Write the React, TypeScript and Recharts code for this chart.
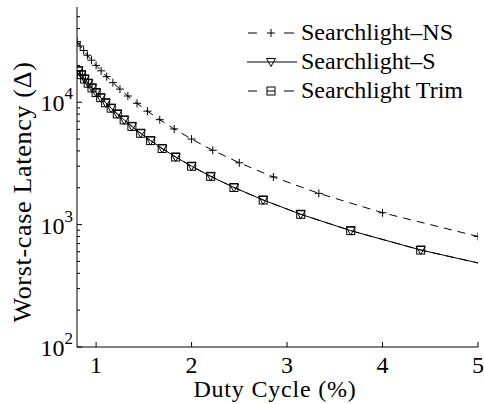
import React from "react";
import { LineChart, Line, XAxis, YAxis, Legend } from "recharts";

// duty cycle (%) for the Searchlight-S / Trim markers
const sDuty = [
  0.815, 0.846, 0.88, 0.917, 0.957, 1.0, 1.048, 1.1, 1.158, 1.222, 1.294, 1.375,
  1.467, 1.571, 1.692, 1.833, 2.0, 2.2, 2.444, 2.75, 3.143, 3.667, 4.4, 5.5,
];
const sLatency = [
  18100, 16800, 15500, 14300, 13100, 12000, 10900, 9900, 8950, 8030, 7170, 6350,
  5580, 4860, 4190, 3570, 3000, 2480, 2010, 1590, 1215, 893, 620, 397,
];
const trimLatency = [
  18100, 16800, 15500, 14300, 13100, 12000, 10900, 9900, 8950, 8030, 7170, 6350,
  5580, 4860, 4190, 3570, 3000, 2480, 2010, 1590, 1215, 893, 620, 397,
];

// Searchlight-NS
const nsDuty = [
  0.8, 0.833, 0.87, 0.909, 0.952, 1.0, 1.053, 1.111, 1.176, 1.25, 1.333, 1.429,
  1.538, 1.667, 1.818, 2.0, 2.222, 2.5, 2.857, 3.333, 4.0, 5.0,
];
const nsLatency = [
  31250, 28800, 26450, 24200, 22050, 20000, 18050, 16200, 14450, 12800, 11250, 9800,
  8450, 7200, 6050, 5000, 4050, 3200, 2450, 1800, 1250, 800,
];

const xTicks = [1, 2, 3, 4, 5];
const yMajor = [100, 1000, 10000];
const yMinor = [
  200, 300, 400, 500, 600, 700, 800, 900,
  2000, 3000, 4000, 5000, 6000, 7000, 8000, 9000,
  20000, 30000, 40000, 50000,
];
const yTicks = [...yMajor, ...yMinor].sort((a, b) => a - b);

const nsData = nsDuty.map((x, i) => ({ x, y: nsLatency[i] }));
const sData = sDuty.map((x, i) => ({ x, y: sLatency[i] }));
const trimData = sDuty.map((x, i) => ({ x, y: trimLatency[i] }));

const FONT = "Liberation Serif";
const INK = "#000";

const PlusDot = (p: any) => (
  <g key={`ns-${p.index}`}>
    <line x1={p.cx - 4} x2={p.cx + 4} y1={p.cy} y2={p.cy} stroke={INK} strokeWidth={1} />
    <line x1={p.cx} x2={p.cx} y1={p.cy - 4} y2={p.cy + 4} stroke={INK} strokeWidth={1} />
  </g>
);

const TriDot = (p: any) => (
  <polygon
    key={`s-${p.index}`}
    points={`${p.cx - 4.5},${p.cy - 3.5} ${p.cx + 4.5},${p.cy - 3.5} ${p.cx},${p.cy + 4.5}`}
    fill="none"
    stroke={INK}
    strokeWidth={1}
  />
);

const SquareDot = (p: any) => (
  <rect
    key={`t-${p.index}`}
    x={p.cx - 4}
    y={p.cy - 4}
    width={8}
    height={8}
    fill="none"
    stroke={INK}
    strokeWidth={1}
  />
);

const BottomTick = ({ x, y, payload }: any) => (
  <g>
    <line x1={x} x2={x} y1={y} y2={y - 5} stroke={INK} />
    <text x={x} y={y + 26} textAnchor="middle" fontFamily={FONT} fontSize={24} fill={INK}>
      {payload.value}
    </text>
  </g>
);

const TopTick = ({ x, y }: any) => <line x1={x} x2={x} y1={y} y2={y + 5} stroke={INK} />;

const LeftTick = ({ x, y, payload }: any) => {
  const major = yMajor.includes(payload.value);
  return (
    <g>
      <line x1={x} x2={x + (major ? 5 : 3)} y1={y} y2={y} stroke={INK} />
      {major && (
        <text x={x - 4} y={y + 9} textAnchor="end" fontFamily={FONT} fontSize={24} fill={INK}>
          <tspan>10</tspan>
          <tspan dy={-12} fontSize={17}>
            {Math.round(Math.log10(payload.value))}
          </tspan>
        </text>
      )}
    </g>
  );
};

const RightTick = ({ x, y, payload }: any) => {
  const major = yMajor.includes(payload.value);
  return <line x1={x} x2={x - (major ? 5 : 3)} y1={y} y2={y} stroke={INK} />;
};

const legendRows = [
  { name: "Searchlight\u2013NS", kind: "ns" },
  { name: "Searchlight\u2013S", kind: "s" },
  { name: "Searchlight Trim", kind: "trim" },
];

const LegendIcon = ({ kind }: { kind: string }) => (
  <svg width={50} height={20} style={{ display: "block" }}>
    {kind === "s" ? (
      <line x1={0} x2={50} y1={10} y2={10} stroke={INK} />
    ) : (
      <>
        <line x1={1} x2={10} y1={10} y2={10} stroke={INK} />
        <line x1={37} x2={47} y1={10} y2={10} stroke={INK} />
      </>
    )}
    {kind === "ns" && <PlusDot cx={24} cy={10} index={0} />}
    {kind === "s" && <TriDot cx={24} cy={10} index={0} />}
    {kind === "trim" && (
      <>
        <SquareDot cx={24} cy={10} index={0} />
        <line x1={20} x2={28} y1={10} y2={10} stroke={INK} />
      </>
    )}
  </svg>
);

const renderLegend = () => (
  <div style={{ fontFamily: FONT, fontSize: 24, color: INK }}>
    {legendRows.map((r) => (
      <div key={r.name} style={{ display: "flex", alignItems: "center", height: 29 }}>
        <LegendIcon kind={r.kind} />
        <span style={{ marginLeft: 4, lineHeight: "29px" }}>{r.name}</span>
      </div>
    ))}
  </div>
);

export default function App() {
  return (
    <div style={{ position: "absolute", left: 0, top: 0, background: "#fff" }}>
      <LineChart width={484} height={404} margin={{ top: 7, right: 6, bottom: 0, left: 0 }}>
        <XAxis
          dataKey="x"
          type="number"
          domain={[0.8, 5]}
          allowDataOverflow
          ticks={xTicks}
          tickSize={0}
          tickMargin={0}
          tickLine={false}
          tick={<BottomTick />}
          height={57}
          axisLine={{ stroke: INK }}
          label={() => (
            <text
              x={275}
              y={397}
              textAnchor="middle"
              fontFamily={FONT}
              fontSize={24}
              letterSpacing={0.8}
              fill={INK}
            >
              Duty Cycle (%)
            </text>
          )}
        />
        <XAxis
          xAxisId="top"
          orientation="top"
          dataKey="x"
          type="number"
          domain={[0.8, 5]}
          allowDataOverflow
          ticks={xTicks}
          tickSize={0}
          tickMargin={0}
          tickLine={false}
          tick={<TopTick />}
          height={0}
          axisLine={{ stroke: INK }}
        />
        <YAxis
          type="number"
          scale="log"
          domain={[100, 60000]}
          allowDataOverflow
          ticks={yTicks}
          interval={0}
          tickSize={0}
          tickMargin={0}
          tickLine={false}
          tick={<LeftTick />}
          width={77}
          axisLine={{ stroke: INK }}
          label={() => (
            <text
              x={22}
              y={192}
              transform="rotate(-90, 22, 192)"
              textAnchor="middle"
              dominantBaseline="central"
              fontFamily={FONT}
              fontSize={26}
              letterSpacing={0.7}
              fill={INK}
            >
              Worst-case Latency (Δ)
            </text>
          )}
        />
        <YAxis
          yAxisId="right"
          orientation="right"
          type="number"
          scale="log"
          domain={[100, 60000]}
          allowDataOverflow
          ticks={yTicks}
          interval={0}
          tickSize={0}
          tickMargin={0}
          tickLine={false}
          tick={<RightTick />}
          width={0}
          axisLine={{ stroke: INK }}
        />
        <Legend
          layout="horizontal"
          verticalAlign="middle"
          align="center"
          content={renderLegend}
          wrapperStyle={{ top: 18, left: 247, width: 235 }}
        />
        <Line
          data={nsData}
          dataKey="y"
          stroke={INK}
          strokeWidth={1}
          strokeDasharray="8 6"
          dot={PlusDot}
          activeDot={false}
          isAnimationActive={false}
        />
        <Line
          data={trimData}
          dataKey="y"
          stroke={INK}
          strokeWidth={1}
          strokeDasharray="8 6"
          dot={SquareDot}
          activeDot={false}
          isAnimationActive={false}
        />
        <Line
          data={sData}
          dataKey="y"
          stroke={INK}
          strokeWidth={1}
          dot={TriDot}
          activeDot={false}
          isAnimationActive={false}
        />
      </LineChart>
    </div>
  );
}
